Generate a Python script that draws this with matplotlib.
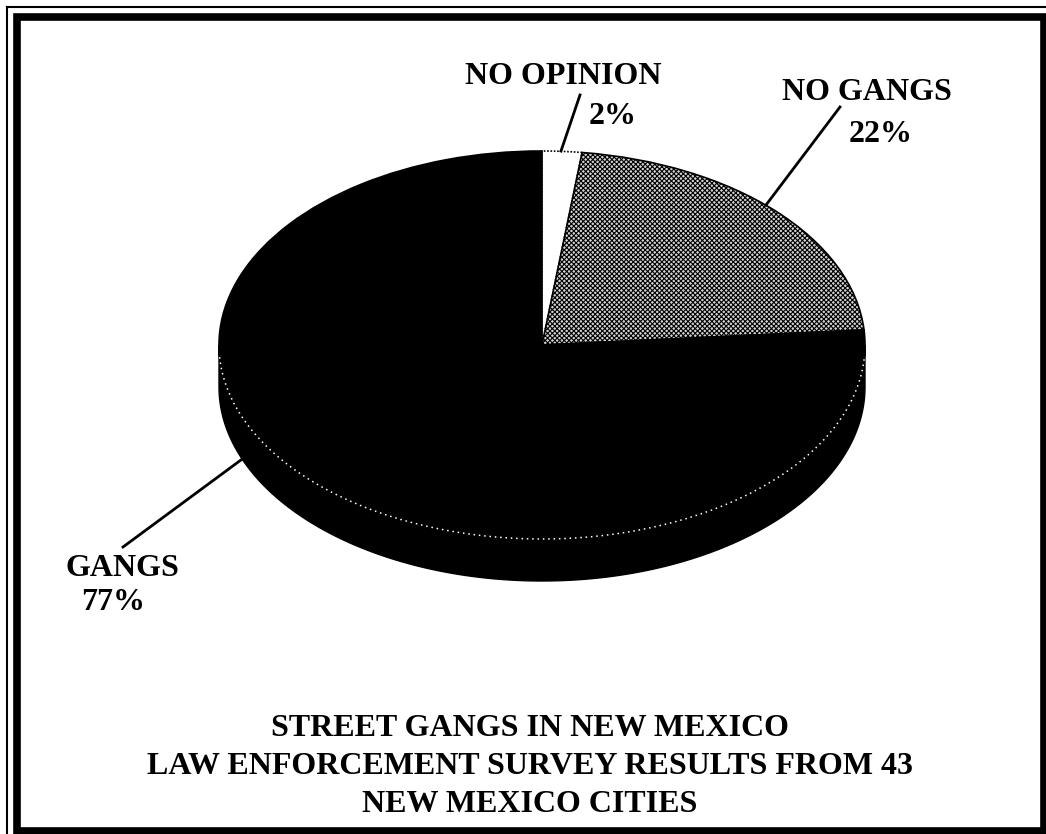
import numpy as np
import matplotlib
matplotlib.use("Agg")
import matplotlib.pyplot as plt
from matplotlib.patches import Polygon, Rectangle
from matplotlib.lines import Line2D

# ---- data ----
categories = ["NO OPINION", "NO GANGS", "GANGS"]
values = [2, 22, 77]
pct_labels = ["2%", "22%", "77%"]
title_lines = ["STREET GANGS IN NEW MEXICO",
               "LAW ENFORCEMENT SURVEY RESULTS FROM 43",
               "NEW MEXICO CITIES"]

W, H = 1046, 834
fig = plt.figure(figsize=(W / 100, H / 100), dpi=100)
fig.patch.set_facecolor("white")

# pixel helpers
def fx(x):
    return x / W

def fy(y):
    return 1 - y / H

# axes over the whole figure; data units map to an ellipse
cx, cy, a, b = 542, 345, 323, 194
ax = fig.add_axes([0, 0, 1, 1])
ax.axis("off")

# 3D side (thickness)
t = 42 / b
th = np.linspace(np.pi, 2 * np.pi, 200)
top_edge = np.column_stack([np.cos(th), np.sin(th)])
bot_edge = np.column_stack([np.cos(th[::-1]), np.sin(th[::-1]) - t])
side = Polygon(np.vstack([top_edge, bot_edge]), closed=True,
               facecolor="black", edgecolor="black", lw=1, zorder=1)
ax.add_patch(side)

# pie top face
plt.rcParams["hatch.linewidth"] = 0.8
wedges, _ = ax.pie(values, startangle=90, counterclock=False, radius=1,
                   colors=["white", "white", "black"],
                   wedgeprops=dict(edgecolor="black", linewidth=1.2))
ax.set_aspect("auto")
ax.set_xlim((0 - cx) / a, (W - cx) / a)
ax.set_ylim((cy - H) / b, (cy - 0) / b)
for w in wedges:
    w.set_zorder(2)
wedges[1].set_hatch("xxxxxxx")
wedges[1].set_facecolor("#d4d4d4")
wedges[0].set_linestyle((0, (1, 1)))

# dotted rim line on the front edge
th2 = np.linspace(np.pi * 1.02, np.pi * 1.98, 200)
ax.plot(np.cos(th2), np.sin(th2), color="white", lw=1.1,
        ls=(0, (1, 2.5)), zorder=3)

font = dict(family="Liberation Serif", weight="bold", color="black")

# labels
fig.text(fx(563), fy(76), categories[0], ha="center", va="center", fontsize=23, **font)
fig.text(fx(613), fy(116), pct_labels[0], ha="center", va="center", fontsize=23, **font)
fig.text(fx(782), fy(92), categories[1], ha="left", va="center", fontsize=23, **font)
fig.text(fx(881), fy(135), pct_labels[1], ha="center", va="center", fontsize=23, **font)
fig.text(fx(122), fy(568), categories[2], ha="center", va="center", fontsize=23, **font)
fig.text(fx(113), fy(603), pct_labels[2], ha="center", va="center", fontsize=23, **font)

# leader lines
for (x1, y1, x2, y2) in [(580, 95, 561, 151), (840, 107, 766, 205), (123, 547, 245, 457)]:
    fig.add_artist(Line2D([fx(x1), fx(x2)], [fy(y1), fy(y2)], color="black", lw=2))

# title
for i, line in enumerate(title_lines):
    fig.text(fx(530), fy(728 + 38.5 * i), line, ha="center", va="center", fontsize=23, **font)

# frame
fig.add_artist(Rectangle((fx(16.5), fy(830.5)), fx(1044 - 16.5), fy(16.5) - fy(830.5),
                         fill=False, edgecolor="black", lw=5.5, transform=fig.transFigure))
fig.add_artist(Line2D([fx(6.5), fx(6.5)], [fy(6.5), fy(834)], color="black", lw=1.5))
fig.add_artist(Line2D([fx(6.5), fx(1046)], [fy(6.5), fy(6.5)], color="black", lw=1.5))

fig.savefig("out.png", dpi=100, facecolor="white")
